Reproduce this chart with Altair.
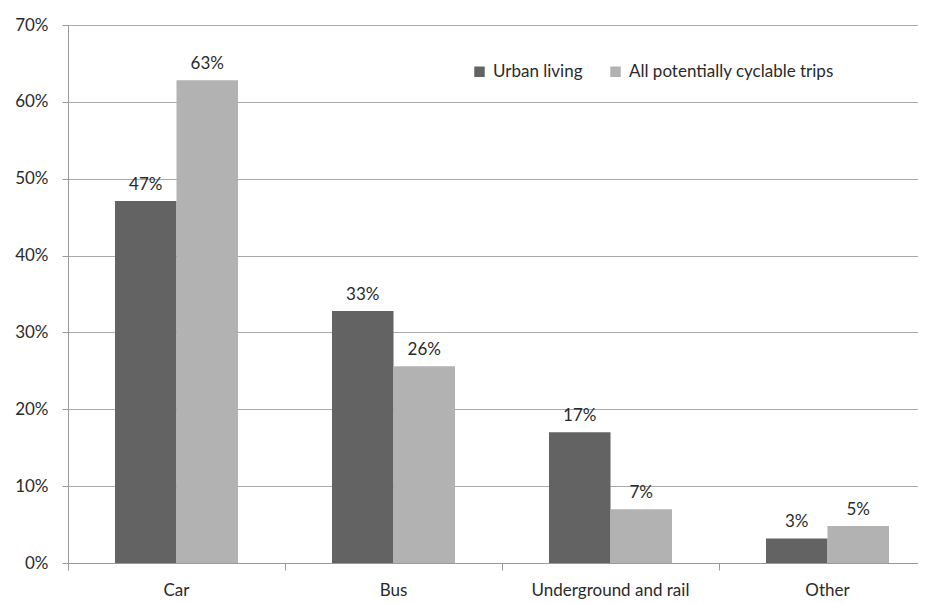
import altair as alt
import pandas as pd

categories = ["Car", "Bus", "Underground and rail", "Other"]
series = ["Urban living", "All potentially cyclable trips"]
urban = [0.471, 0.328, 0.170, 0.032]
cyclable = [0.628, 0.256, 0.070, 0.048]

rows = []
for c, u, a in zip(categories, urban, cyclable):
    rows.append({"cat": c, "series": series[0], "value": u})
    rows.append({"cat": c, "series": series[1], "value": a})
df = pd.DataFrame(rows)

FONT = "Lato"
FS = 17
TXT = "#2a2a2a"
P_IN = 0.433
P_OUT = P_IN / 2
BANDPOS = -P_OUT / (1 - P_IN)

x = alt.X("cat:N", sort=categories, title=None,
          scale=alt.Scale(paddingInner=P_IN, paddingOuter=P_OUT, range=[0, 868]),
          axis=alt.Axis(labelAngle=0, labelFontSize=FS, labelFont=FONT, labelColor=TXT,
                        bandPosition=BANDPOS, tickSize=7, tickColor="#999", domainColor="#999",
                        labelPadding=12, grid=False))
y = alt.Y("value:Q", title=None,
          scale=alt.Scale(domain=[0, 0.7], nice=False),
          axis=alt.Axis(format=".0%", values=[0, 0.1, 0.2, 0.3, 0.4, 0.5, 0.6, 0.7],
                        labelFontSize=FS, labelFont=FONT, labelColor=TXT,
                        tickSize=6, tickColor="#999", domainColor="#999",
                        gridColor="#aaa", labelPadding=14))
color = alt.Color("series:N", sort=series,
                  scale=alt.Scale(domain=series, range=["#636363", "#b2b2b2"]),
                  legend=alt.Legend(title=None, orient="none", legendX=403, legendY=38,
                                    direction="horizontal", symbolType="square",
                                    symbolSize=110, symbolStrokeWidth=0, labelLimit=0,
                                    labelFontSize=FS, labelFont=FONT, labelColor=TXT,
                                    columnPadding=24, labelOffset=5))
xo = alt.XOffset("series:N", sort=series)

bars = alt.Chart(df).mark_bar().encode(x=x, y=y, color=color, xOffset=xo)
labels = alt.Chart(df).mark_text(baseline="bottom", dy=-7, fontSize=FS, font=FONT, color=TXT).encode(
    x=alt.X("cat:N", sort=categories),
    y=alt.Y("value:Q"),
    xOffset=xo,
    text=alt.Text("value:Q", format=".0%"),
)

chart = alt.layer(bars, labels).properties(
    width=850, height=538,
    autosize=alt.AutoSizeParams(type="none"),
    padding={"left": 60, "top": 17, "right": 0, "bottom": 40},
).configure_view(stroke=None)

chart.save("out.html", embed_options={"renderer": "svg", "actions": False})
